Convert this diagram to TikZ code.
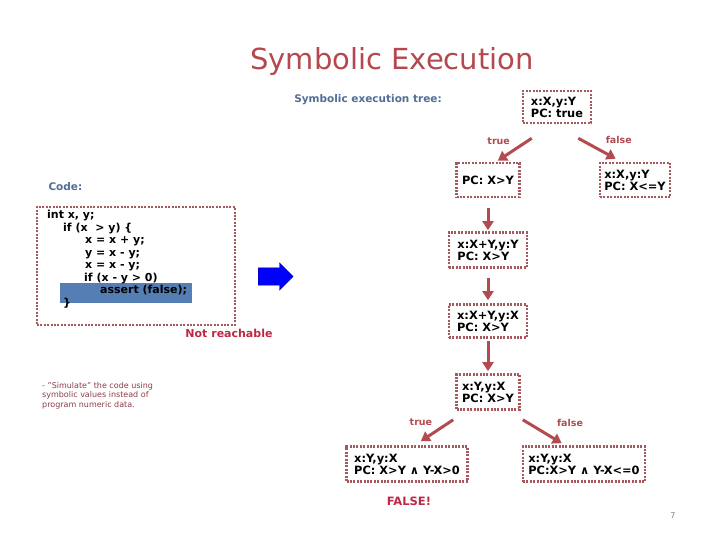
\documentclass[tikz,border=0pt]{standalone}
\usepackage{fontspec}
\setmainfont{DejaVu Sans}
\usetikzlibrary{arrows.meta,shapes.arrows,positioning}
\definecolor{titlered}{RGB}{180,72,78}
\definecolor{boxred}{RGB}{165,88,94}
\definecolor{arrred}{RGB}{178,74,80}
\definecolor{hotred}{RGB}{190,40,70}
\definecolor{headblue}{RGB}{80,110,150}
\definecolor{hlblue}{RGB}{84,126,180}
\definecolor{notered}{RGB}{140,60,70}
\tikzset{
  state/.style={draw=boxred, line width=2.6pt, dash pattern=on 2pt off 1.4pt,
    align=left, inner sep=0pt, font=\fontsize{11.4}{10.5}\selectfont\bfseries},
  tarrow/.style={draw=arrred, line width=3pt, -{Triangle[length=9pt,width=11pt]}},
  blab/.style={text=arrred, font=\fontsize{9.5}{9}\selectfont\bfseries},
  head/.style={text=headblue, font=\fontsize{10.5}{12}\selectfont\bfseries}
}
\begin{document}
\begin{tikzpicture}[x=1pt,y=-1pt]
        \useasboundingbox (0,0) rectangle (720,540);

        \node[anchor=base, text=titlered, font=\fontsize{29}{30}\selectfont] (title) at (392,70) {Symbolic Execution};
        \node[head, anchor=base] (treehead) at (368,103) {Symbolic execution tree:};
        \node[head, anchor=base west] (codehead) at (45,191) {Code:};

        \node[state, minimum width=198pt, minimum height=118pt] (codebox) at (136,266) {};
        \node[fill=hlblue, inner sep=0pt, minimum width=132pt, minimum height=20pt] (hl) at (126,293) {};
        \node[anchor=north west, inner sep=0pt, align=left, font=\fontsize{11}{12.5}\selectfont\bfseries] (code) at (47,210)
          {int x, y;\\
           \hspace*{16pt}if (x \ > y) \{\\
           \hspace*{38pt}x = x + y;\\
           \hspace*{38pt}y = x - y;\\
           \hspace*{38pt}x = x - y;\\
           \hspace*{37pt}if (x - y > 0)\\
           \hspace*{53pt}assert (false);\\
           \hspace*{16pt}\}};
        \node[anchor=base, text=hotred, font=\fontsize{11}{12}\selectfont\bfseries] (nr) at (229,337) {Not reachable};
        \node[anchor=north west, inner sep=0pt, align=left, text=notered, font=\fontsize{8}{9.5}\selectfont] (sim) at (42,382)
          {- "Simulate" the code using\\symbolic values instead of\\program numeric data.};

        \node[single arrow, fill=blue, draw=blue!40!black, inner sep=8.5pt, minimum height=35pt,
          single arrow head extend=5pt, anchor=tail] (go) at (258,276.5) {};

        \node[state, minimum width=68pt, minimum height=32pt] (root) at (557,107) {x:X,y:Y\\PC: true};
        \node[state, minimum width=63pt, minimum height=34pt] (gt) at (488,180) {PC: X>Y};
        \node[state, minimum width=70pt, minimum height=34pt] (le) at (635,180) {x:X,y:Y\\PC: X<=Y};
        \node[state, minimum width=78pt, minimum height=35pt] (s1) at (488,250) {x:X+Y,y:Y\\PC: X>Y};
        \node[state, minimum width=78pt, minimum height=33pt] (s2) at (488,321) {x:X+Y,y:X\\PC: X>Y};
        \node[state, minimum width=63pt, minimum height=35pt] (s3) at (488,392) {x:Y,y:X\\PC: X>Y};
        \node[state, minimum width=121pt, minimum height=35pt] (tt) at (407,464) {x:Y,y:X\\PC: X>Y ∧ Y-X>0};
        \node[state, minimum width=122pt, minimum height=35pt] (tf) at (584,464) {x:Y,y:X\\PC:X>Y ∧ Y-X<=0};

        \draw[tarrow] ([xshift=10pt,yshift=-14pt]root.south west) -- ([xshift=-23pt,yshift=1pt]gt.north east)
          node[blab, midway, above left] (t1) {true};
        \draw[tarrow] ([xshift=-14pt,yshift=-14pt]root.south east) -- ([xshift=17pt,yshift=3pt]le.north west)
          node[blab, midway, above right, xshift=4pt] (f1) {false};
        \draw[tarrow, shorten <=10pt, shorten >=1pt] (gt) -- (s1);
        \draw[tarrow, shorten <=9pt, shorten >=3pt] (s1) -- (s2);
        \draw[tarrow, shorten <=2pt, shorten >=2pt] (s2) -- (s3);
        \draw[tarrow] ([xshift=-2pt,yshift=-9pt]s3.south west) -- ([xshift=-48pt,yshift=4pt]tt.north east)
          node[blab, midway, above left] (t2) {true};
        \draw[tarrow] ([xshift=2pt,yshift=-9pt]s3.south east) -- ([xshift=40pt,yshift=2pt]tf.north west)
          node[blab, midway, above right, xshift=10pt] (f2) {false};

        \node[anchor=base, text=hotred, font=\fontsize{11.5}{12}\selectfont\bfseries] (fls) at (409,505) {FALSE!};
        \node[anchor=base, text=gray, font=\fontsize{8}{9}\selectfont] (pg) at (673,518) {7};
      \end{tikzpicture}
\end{document}
